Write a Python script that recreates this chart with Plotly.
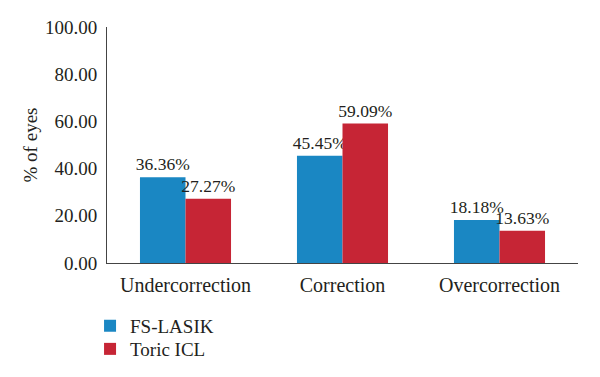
import plotly.graph_objects as go

categories = ["Undercorrection", "Correction", "Overcorrection"]
fs_lasik = [36.36, 45.45, 18.18]
toric_icl = [27.27, 59.09, 13.63]
series_names = ["FS-LASIK", "Toric ICL"]
y_ticks = [0, 20, 40, 60, 80, 100]

FONT = "Liberation Serif"
BLUE = "#1a87c3"
RED = "#c62535"
TXT = "#231f20"

fig = go.Figure()
for name, vals, col, lg in [(series_names[0], fs_lasik, BLUE, "legend"),
                            (series_names[1], toric_icl, RED, "legend2")]:
    fig.add_trace(go.Bar(
        x=categories, y=vals, name=name, marker=dict(color=col, line=dict(width=0)),
        text=[f"{v:.2f}%" for v in vals], textposition="outside", constraintext="none",
        textfont=dict(family=FONT, size=17.5, color=TXT), cliponaxis=False, legend=lg,
    ))

leg_common = dict(orientation="v", xanchor="left", yanchor="top",
                  font=dict(family=FONT, size=19, color=TXT), itemwidth=30,
                  bgcolor="rgba(0,0,0,0)")
fig.update_layout(
    width=600, height=377,
    margin=dict(l=99, r=30, t=19, b=122, autoexpand=False),
    paper_bgcolor="white", plot_bgcolor="white",
    barmode="group", bargap=0.42, bargroupgap=0,
    font=dict(family=FONT, size=19, color=TXT),
    showlegend=True,
    legend=dict(x=-0.036, y=-0.186, **leg_common),
    legend2=dict(x=-0.036, y=-0.284, **leg_common),
)
fig.update_xaxes(showline=True, linecolor="#444444", linewidth=1, ticks="", showgrid=False,
                 automargin=False, ticklabelstandoff=4,
                 tickfont=dict(family=FONT, size=20, color=TXT))
fig.update_yaxes(range=[0, 100], tickvals=y_ticks, tickformat=".2f", showline=True,
                 linecolor="#444444", linewidth=1, ticks="", showgrid=False, zeroline=False,
                 automargin=False, ticklabelstandoff=5,
                 tickfont=dict(family=FONT, size=19, color=TXT),
                 title=dict(text="% of eyes", font=dict(family=FONT, size=19, color=TXT), standoff=2))

fig.write_html("out.html")
